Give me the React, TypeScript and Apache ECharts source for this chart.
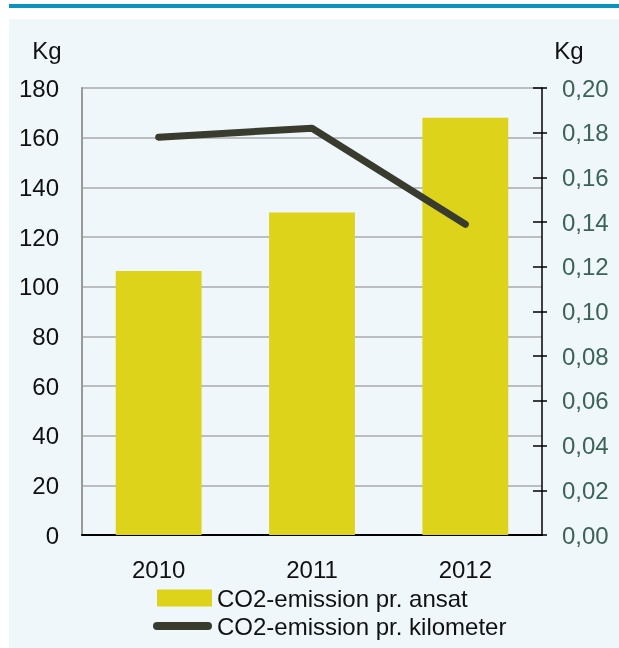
import React, { useEffect, useRef } from "react";
import * as echarts from "echarts";

const years = ["2010", "2011", "2012"];
const perEmployee = [106.3, 129.9, 168.0];
const perKilometer = [0.178, 0.182, 0.139];
const leftName = "Kg";
const rightName = "Kg";
const barName = "CO2-emission pr. ansat";
const lineName = "CO2-emission pr. kilometer";

const FONT = "'Liberation Sans', Arial, sans-serif";

export default function App() {
  const ref = useRef<HTMLDivElement>(null);
  useEffect(() => {
    if (!ref.current) return;
    const chart = echarts.init(ref.current, null, { renderer: "svg" });
    const option: any = {
      animation: false,
      textStyle: { fontFamily: FONT },
      graphic: [
        { type: "rect", z: -10, shape: { x: 9, y: 4, width: 610, height: 4 }, style: { fill: "#0c93bd" } },
        { type: "rect", z: -10, shape: { x: 9, y: 19, width: 610, height: 629 }, style: { fill: "#eff7fa" } },
        { type: "text", x: 47, y: 50, style: { text: leftName, font: `24px ${FONT}`, fill: "#111", textAlign: "center", textVerticalAlign: "middle" } },
        { type: "text", x: 569, y: 50, style: { text: rightName, font: `24px ${FONT}`, fill: "#111", textAlign: "center", textVerticalAlign: "middle" } },
      ],
      grid: { left: 82, right: 77, top: 88, bottom: 113 },
      legend: [
        {
          data: [{ name: barName, icon: "rect" }],
          left: 157, top: 586, padding: 0, itemWidth: 55, itemHeight: 17, selectedMode: false,
          textStyle: { fontSize: 24, lineHeight: 21, color: "#111", fontFamily: FONT },
        },
        {
          data: [{ name: lineName, icon: "path://M4,0 H55 A4,4 0 0 1 55,8 H4 A4,4 0 0 1 4,0 Z" }],
          left: 153, top: 614, padding: 0, itemWidth: 59, itemHeight: 8, selectedMode: false,
          textStyle: { fontSize: 24, lineHeight: 21, color: "#111", fontFamily: FONT },
        },
      ],
      xAxis: {
        type: "category",
        data: years,
        axisLine: { lineStyle: { color: "#000", width: 2 } },
        axisTick: { show: false },
        axisLabel: { fontSize: 24, color: "#111", margin: 22, fontFamily: FONT },
      },
      yAxis: [
        {
          type: "value", min: 0, max: 180, interval: 20, position: "left",
          axisLine: { show: true, lineStyle: { color: "#999", width: 2 } },
          axisTick: { show: false },
          axisLabel: { fontSize: 24, color: "#111", margin: 23, fontFamily: FONT },
          splitLine: { lineStyle: { color: "#aaa", width: 1.5 } },
        },
        {
          type: "value", min: 0, max: 0.2, interval: 0.02, position: "right",
          axisLine: { show: true, lineStyle: { color: "#000", width: 1.5 } },
          axisTick: { show: true, inside: true, length: 9, lineStyle: { color: "#000", width: 1.5 } },
          axisLabel: {
            fontSize: 24, color: "#3b6356", margin: 20, fontFamily: FONT,
            formatter: (v: number) => v.toFixed(2).replace(".", ","),
          },
          splitLine: { show: false },
        },
        {
          type: "value", min: 0, max: 0.2, interval: 0.02, position: "right",
          axisLine: { show: false },
          axisTick: { show: true, inside: false, length: 5, lineStyle: { color: "#000", width: 1.5 } },
          axisLabel: { show: false },
          splitLine: { show: false },
        },
      ],
      series: [
        {
          name: barName, type: "bar", yAxisIndex: 0, data: perEmployee, barWidth: "56%",
          itemStyle: { color: "#dcd31a" },
        },
        {
          name: lineName, type: "line", yAxisIndex: 1, data: perKilometer, symbol: "none",
          itemStyle: { color: "#383b2e" },
          lineStyle: { color: "#383b2e", width: 7, cap: "round", join: "round" },
        },
      ],
    };
    chart.setOption(option);
    return () => chart.dispose();
  }, []);
  return <div ref={ref} style={{ position: "fixed", left: 0, top: 0, width: 619, height: 648 }} />;
}
